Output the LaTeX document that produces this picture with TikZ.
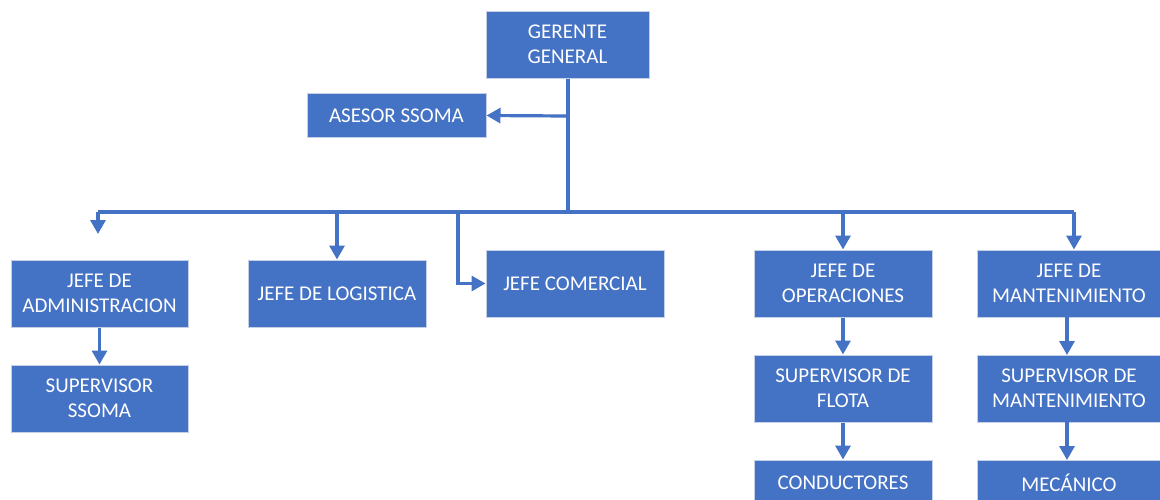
\documentclass[tikz,border=0pt]{standalone}
\usepackage{fontspec}
\setmainfont{Carlito}
\usetikzlibrary{arrows.meta}
\definecolor{boxblue}{HTML}{4472C4}
\definecolor{boxedge}{HTML}{C5D0E6}
\tikzset{
  orgbox/.style={rectangle, fill=boxblue, draw=boxedge, line width=1pt, inner sep=0pt,
    text=white, align=center, font=\fontsize{21}{25}\selectfont},
  conn/.style={draw=boxblue, line width=3.2pt},
  arr/.style={conn, -{Triangle[width=15pt,length=14pt]}},
}
\begin{document}
\begin{tikzpicture}[x=1pt,y=-1pt]
\useasboundingbox (0,0) rectangle (1160,499);
% boxes
\node[orgbox, minimum width=163pt, minimum height=67pt] (ger) at (567.5,44.5) {GERENTE\\GENERAL};
\node[orgbox, minimum width=179pt, minimum height=44pt] (ase) at (396.5,115.5) {ASESOR SSOMA};
\node[orgbox, minimum width=177pt, minimum height=67pt] (adm) at (99.5,293.5) {JEFE DE\\ADMINISTRACION};
\node[orgbox, minimum width=178pt, minimum height=67pt] (log) at (337,293.5) {JEFE DE LOGISTICA};
\node[orgbox, minimum width=178pt, minimum height=67pt] (com) at (575,283.5) {JEFE COMERCIAL};
\node[orgbox, minimum width=178pt, minimum height=67pt] (ope) at (843,283.5) {JEFE DE\\OPERACIONES};
\node[orgbox, minimum width=184pt, minimum height=67pt] (man) at (1069,283.5) {JEFE DE\\MANTENIMIENTO};
\node[orgbox, minimum width=177pt, minimum height=67pt] (sso) at (99.5,398.5) {SUPERVISOR\\SSOMA};
\node[orgbox, minimum width=178pt, minimum height=67pt] (flo) at (843,388.5) {SUPERVISOR DE\\FLOTA};
\node[orgbox, minimum width=184pt, minimum height=67pt] (sman) at (1069,388.5) {SUPERVISOR DE\\MANTENIMIENTO};
\node[orgbox, minimum width=178pt, minimum height=46pt] (cond) at (843,483) {CONDUCTORES};
\node[orgbox, minimum width=184pt, minimum height=46pt] (mec) at (1069,483) {MECÁNICO};
% bus coordinates
\coordinate (tk) at (568,212);
\coordinate (ja) at (568,116);
\coordinate (bl) at (98,212);
\coordinate (br) at (1074,212);
\coordinate (admtip) at (98,234);
% connectors
\draw[conn] (ger.south -| tk) -- (tk);
\draw[arr] (ja) -- (ase.east);
\draw[conn] (bl) -- (br);
\draw[arr] (bl) -- (admtip);
\draw[arr] (log.north |- tk) -- (log.north);
\draw[arr] (458,212) |- (com.west);
\draw[arr] (ope.north |- tk) -- (ope.north);
\draw[arr] (br) -- (br |- man.north);
\draw[arr] (adm.south) -- (sso.north);
\draw[arr] (ope.south) -- (flo.north);
\draw[arr] (flo.south) -- (cond.north);
\draw[arr] (1067,317) -- (1067,355);
\draw[arr] (1067,422) -- (1067,460);
\end{tikzpicture}
\end{document}
